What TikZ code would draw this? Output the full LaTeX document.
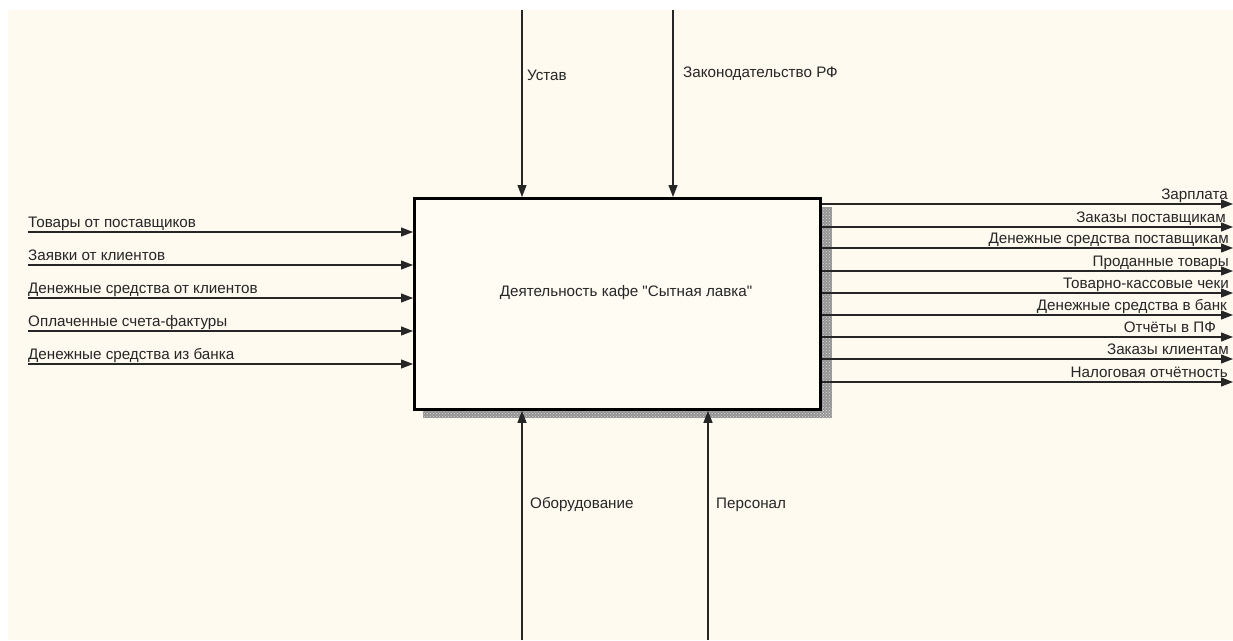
\documentclass[tikz,border=0pt]{standalone}
\usepackage{fontspec}
\setmainfont{Liberation Sans}
\usetikzlibrary{arrows.meta,patterns}
\definecolor{bg}{HTML}{FEFAF0}
\definecolor{boxfill}{HTML}{FFFCF4}
\tikzset{
  flow/.style={line width=1.1pt, draw=black!85, -{Triangle[length=12pt,width=9pt]}},
  lbl/.style={inner sep=0pt, text=black!85, font=\fontsize{15.2}{18}\selectfont},
  shadebase/.style={fill=black!42, draw=none},
  shadedots/.style={pattern=crosshatch dots, pattern color=white!85!black, draw=none},
}
\begin{document}
\begin{tikzpicture}[x=1pt,y=-1pt]
\useasboundingbox (0,0) rectangle (1233,640);
\fill[white] (0,0) rectangle (1233,640);
\fill[bg] (8,10) rectangle (1233,640);
% shadow
\fill[shadebase] (819,207) rectangle (832,418);
\fill[shadebase] (423,408) rectangle (832,418);
\fill[shadedots] (819,207) rectangle (832,418);
\fill[shadedots] (423,408) rectangle (832,418);
% main box
\node[draw, line width=2.8pt, fill=boxfill, minimum width=406pt, minimum height=211pt, inner sep=0pt, anchor=north west] (A) at (413,197) {};
\node[lbl] (title) at (626,293) {Деятельность кафе \textquotedbl Сытная лавка\textquotedbl};
% controls
\coordinate (c1) at (522,10);
\coordinate (c2) at (673,10);
\draw[flow] (c1) -- (c1 |- A.north);
\draw[flow] (c2) -- (c2 |- A.north);
\node[lbl, anchor=base west] (lc1) at (527,80) {Устав};
\node[lbl, anchor=base west] (lc2) at (683,77) {Законодательство РФ};
% mechanisms
\coordinate (m1) at (522,640);
\coordinate (m2) at (708,640);
\draw[flow] (m1) -- (m1 |- A.south);
\draw[flow] (m2) -- (m2 |- A.south);
\node[lbl, anchor=base west] (lm1) at (530,508) {Оборудование};
\node[lbl, anchor=base west] (lm2) at (716,508) {Персонал};
% inputs
\foreach \y/\t [count=\i] in {232/Товары от поставщиков, 265/Заявки от клиентов, 298/Денежные средства от клиентов, 331/Оплаченные счета-фактуры, 364/Денежные средства из банка}{
  \coordinate (in\i) at (28,\y);
  \draw[flow] (in\i) -- (in\i -| A.west);
  \node[lbl, anchor=base west] (lin\i) at (28,\y-5) {\t};
}
% outputs
\foreach \y/\t/\xe [count=\i] in {204/Зарплата/1228, 227/Заказы поставщикам/1226, 248/Денежные средства поставщикам/1229, 271/Проданные товары/1229, 293/Товарно-кассовые чеки/1229, 315/Денежные средства в банк/1227, 337/Отчёты в ПФ/1216, 359/Заказы клиентам/1229, 382/Налоговая отчётность/1228}{
  \coordinate (out\i) at (1233,\y);
  \draw[flow] (out\i -| A.east) -- (out\i);
  \node[lbl, anchor=base east] (lout\i) at (\xe,\y-5) {\t};
}
\end{tikzpicture}
\end{document}
